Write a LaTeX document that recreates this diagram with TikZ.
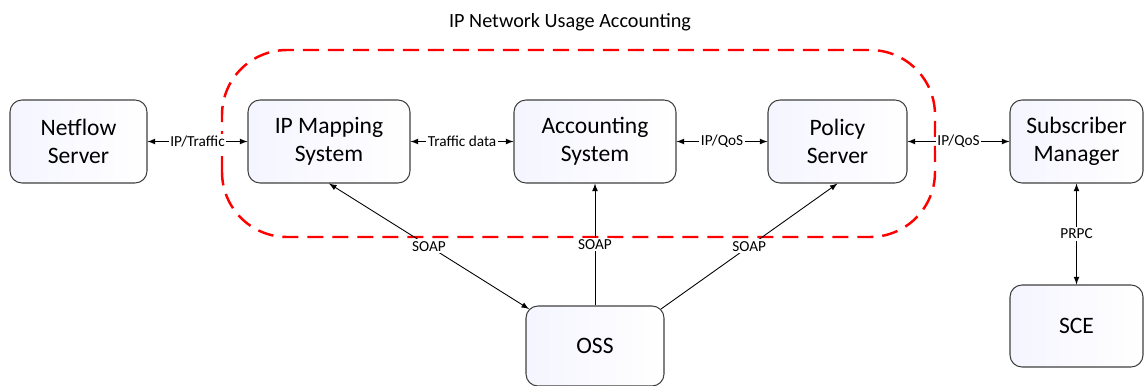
\documentclass[tikz,border=0pt]{standalone}
\usepackage{fontspec}
\setmainfont{Carlito}
\usetikzlibrary{shapes,arrows}

\begin{document}
\begin{tikzpicture}[
	box/.style={draw=black!75,line width=0.6pt,rounded corners=0.24cm,left color=blue!4,right color=white,minimum height=1.66cm,align=center,font=\fontsize{13.4}{16}\selectfont},
	link/.style={line width=0.5pt,>=latex},
	tag/.style={fill=white,inner sep=1pt,font=\fontsize{8.7}{10}\selectfont}
]
\useasboundingbox (0,0) rectangle (22.9,7.7);

\draw[color=red,line width=1.4pt,dash pattern=on 0.32cm off 0.18cm,rounded corners=1.3cm] (4.44,2.96) rectangle (18.7,6.7);%usage accounting
\node (title) at (11.4,7.26) {\fontsize{11.5}{13}\selectfont IP Network Usage Accounting};

\node[box,minimum width=2.74cm] (netflow) at (1.57,4.87) {Netflow\\Server};
\node[box,minimum width=3.24cm] (ipmap) at (6.58,4.87) {IP Mapping\\System};
\node[box,minimum width=3.24cm] (acct) at (11.9,4.87) {Accounting\\System};
\node[box,minimum width=2.78cm] (policy) at (16.75,4.87) {Policy\\Server};
\node[box,minimum width=2.66cm] (subscr) at (21.53,4.87) {Subscriber\\Manager};
\node[box,minimum width=2.66cm,minimum height=1.64cm] (sce) at (21.53,1.18) {SCE};
\node[box,minimum width=2.76cm,minimum height=1.6cm] (oss) at (11.9,0.78) {OSS};

\draw[link,<->] (netflow.east) to node[tag] {IP/Traffic} (ipmap.west);
\draw[link,<->] (ipmap.east) to node[tag] {Traffic data} (acct.west);
\draw[link,<->] (acct.east) to node[tag] {IP/QoS} (policy.west);
\draw[link,<->] (policy.east) to node[tag] {IP/QoS} (subscr.west);
\draw[link,<->] (subscr.south) to node[tag] {PRPC} (sce.north);

\draw[link,<->] (ipmap.south) to node[tag] {SOAP} ([xshift=2pt,yshift=-2pt]oss.north west);
\draw[link,->] (oss.north) to node[tag] {SOAP} (acct.south);
\draw[link,->] ([xshift=-2pt,yshift=-2pt]oss.north east) to node[tag] {SOAP} (policy.south);

\end{tikzpicture}
\end{document}
